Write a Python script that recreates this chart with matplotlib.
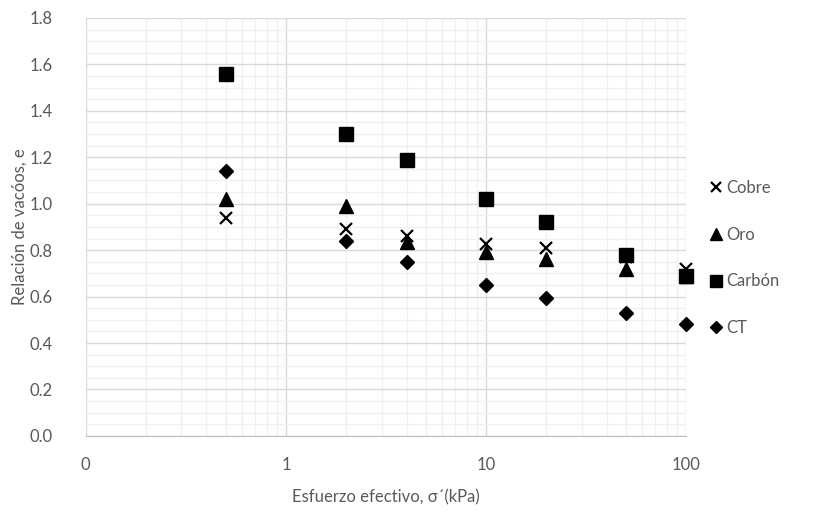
import numpy as np
import matplotlib.pyplot as plt
from matplotlib.ticker import FixedLocator, FixedFormatter, MultipleLocator, LogLocator, NullFormatter

plt.rcParams['font.family'] = ['Lato', 'DejaVu Sans']

esfuerzo = [0.5, 2, 4, 10, 20, 50, 100]
cobre = [0.94, 0.89, 0.86, 0.825, 0.81, 0.77, 0.72]
oro = [1.02, 0.99, 0.835, 0.79, 0.76, 0.72, 0.69]
carbon = [1.56, 1.30, 1.19, 1.02, 0.92, 0.78, 0.69]
ct = [1.14, 0.84, 0.75, 0.65, 0.595, 0.53, 0.48]

x_ticks = [0.1, 1, 10, 100]
x_labels = ['0', '1', '10', '100']

fig = plt.figure(figsize=(8.33, 5.14), dpi=100)
ax = fig.add_axes([0.103, 0.152, 0.721, 0.813])

ax.plot(esfuerzo, carbon, ls='none', marker='s', ms=10, color='black', label='Carbón', zorder=3, clip_on=False)
ax.plot(esfuerzo, oro, ls='none', marker='^', ms=10, color='black', label='Oro', zorder=4, clip_on=False)
ax.plot(esfuerzo, cobre, ls='none', marker='x', ms=9, mew=1.6, color='black', label='Cobre', zorder=2, clip_on=False)
ax.plot(esfuerzo, ct, ls='none', marker='D', ms=7.5, color='black', label='CT', zorder=3, clip_on=False)

ax.set_xscale('log')
ax.set_xlim(0.1, 100)
ax.set_ylim(0, 1.8)
ax.xaxis.set_major_locator(FixedLocator(x_ticks))
ax.xaxis.set_major_formatter(FixedFormatter(x_labels))
ax.xaxis.set_minor_locator(LogLocator(base=10, subs=np.arange(2, 10)))
ax.xaxis.set_minor_formatter(NullFormatter())
ax.yaxis.set_major_locator(MultipleLocator(0.2))
ax.yaxis.set_minor_locator(MultipleLocator(0.05))
ax.yaxis.set_major_formatter(plt.FuncFormatter(lambda v, p: f'{v:.1f}'))

ax.grid(which='major', color='#d9d9d9', lw=1.0)
ax.grid(which='minor', color='#f0f0f0', lw=1.0)
ax.set_axisbelow(True)
ax.tick_params(which='both', length=0, labelsize=12, labelcolor='#595959')
ax.tick_params(axis='x', pad=15)
ax.tick_params(axis='y', pad=24)
for s in ['top', 'right', 'left']:
    ax.spines[s].set_visible(False)
ax.spines['bottom'].set_color('#bfbfbf')

ax.set_xlabel('Esfuerzo efectivo, σ´(kPa)', fontsize=12, color='#595959', labelpad=12)
ax.set_ylabel('Relación de vacóos, e', fontsize=12, color='#595959', labelpad=1)

h, l = ax.get_legend_handles_labels()
order = [2, 1, 0, 3]
fig.legend([h[i] for i in order], [l[i] for i in order], loc='center left',
           bbox_to_anchor=(0.832, 0.498), frameon=False, fontsize=12,
           labelcolor='#595959', handletextpad=0.1, handlelength=1.0,
           labelspacing=1.85, markerscale=0.8)

fig.savefig('out.png', dpi=100)
